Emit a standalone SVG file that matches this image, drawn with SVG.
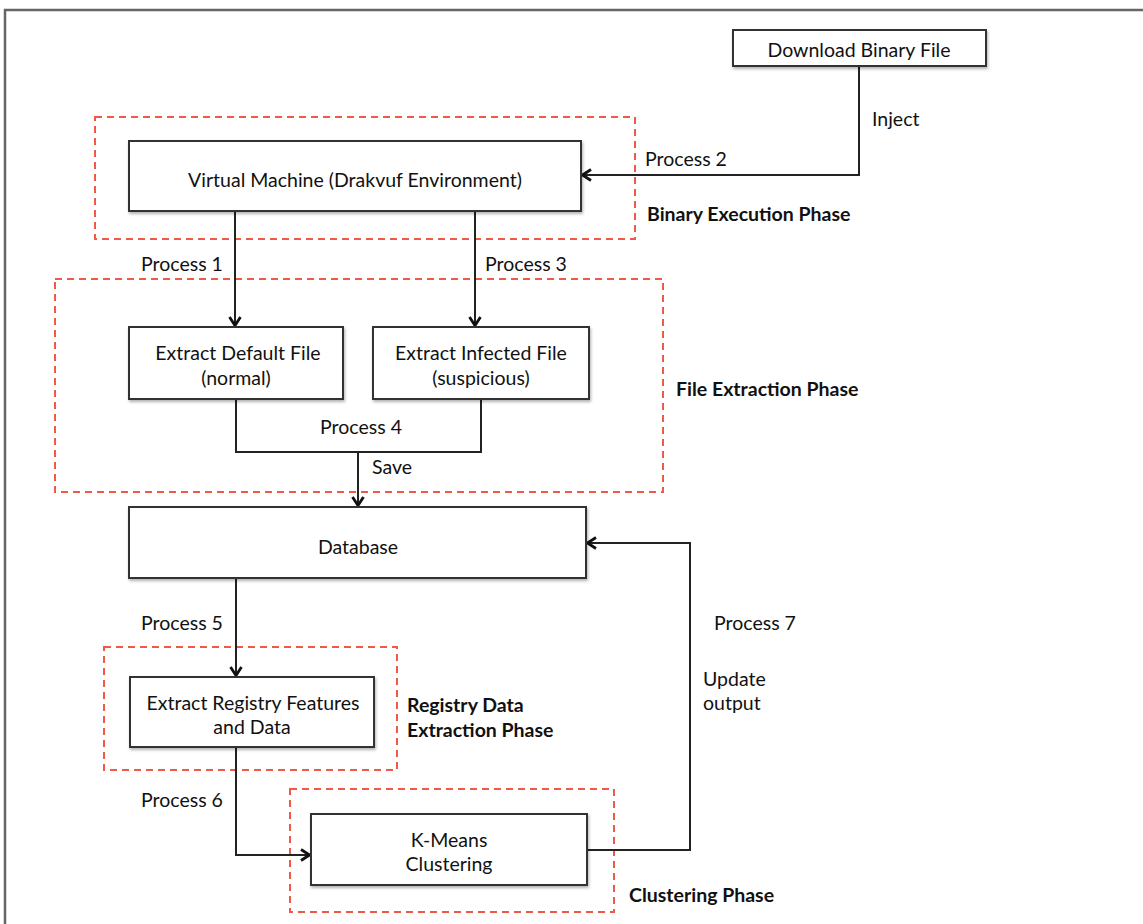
<svg xmlns="http://www.w3.org/2000/svg" width="1143" height="924" viewBox="0 0 1143 924">
<defs>
<marker id="arr" viewBox="0 0 14 14" refX="13" refY="7" markerWidth="14" markerHeight="14" markerUnits="userSpaceOnUse" orient="auto">
<path d="M4,1.5 L12.5,7 L4,12.5" fill="none" stroke="#111" stroke-width="2.8"/>
</marker>
<filter id="sh" x="-5%" y="-10%" width="112%" height="130%">
<feDropShadow dx="1" dy="2" stdDeviation="1.5" flood-color="#000" flood-opacity="0.3"/>
</filter>
</defs>
<style>
text{font-family:"Lato","Liberation Sans",sans-serif;font-size:19.5px;fill:#111;}
.c{text-anchor:middle;}
.b{font-weight:bold;}
.box{fill:#fff;stroke:#333;stroke-width:2;filter:url(#sh);}
.ph{fill:none;stroke:#ee5a45;stroke-width:2;stroke-dasharray:7 5;}
.ln{fill:none;stroke:#222;stroke-width:2;}
</style>
<rect width="1143" height="924" fill="#fff"/>
<path d="M5,924 L5,10 L1143,10" fill="none" stroke="#666" stroke-width="2.5"/>

<g id="phases">
<rect class="ph" x="95" y="117" width="540" height="122"/>
<rect class="ph" x="55" y="279" width="608" height="213"/>
<rect class="ph" x="104" y="647" width="293" height="123"/>
<rect class="ph" x="290" y="789" width="324" height="123"/>
<text class="b" x="647" y="221">Binary Execution Phase</text>
<text class="b" x="676" y="396">File Extraction Phase</text>
<text class="b" x="407" y="712">Registry Data</text>
<text class="b" x="407" y="737">Extraction Phase</text>
<text class="b" x="629" y="902">Clustering Phase</text>
</g>

<g id="connectors">
<path class="ln" d="M859,66 L859,175 L582,175" marker-end="url(#arr)"/>
<path class="ln" d="M235,211 L235,326" marker-end="url(#arr)"/>
<path class="ln" d="M475,211 L475,326" marker-end="url(#arr)"/>
<path class="ln" d="M236,399 L236,452 L481,452 L481,399"/>
<path class="ln" d="M358,452 L358,506" marker-end="url(#arr)"/>
<path class="ln" d="M236,578 L236,676" marker-end="url(#arr)"/>
<path class="ln" d="M236,747 L236,855 L310,855" marker-end="url(#arr)"/>
<path class="ln" d="M587,850 L690,850 L690,543 L587,543" marker-end="url(#arr)"/>
<text x="872" y="126">Inject</text>
<text x="645" y="166">Process 2</text>
<text x="141" y="271">Process 1</text>
<text x="485" y="271">Process 3</text>
<text class="c" x="361" y="434">Process 4</text>
<text x="372" y="474">Save</text>
<text x="141" y="630">Process 5</text>
<text x="141" y="807">Process 6</text>
<text x="714" y="630">Process 7</text>
<text x="703" y="686">Update</text>
<text x="703" y="710">output</text>
</g>

<g id="download">
<rect class="box" x="733" y="30" width="253" height="36"/>
<text class="c" x="859" y="57">Download Binary File</text>
</g>
<g id="vm">
<rect class="box" x="129" y="141" width="452" height="70"/>
<text class="c" x="355" y="187">Virtual Machine (Drakvuf Environment)</text>
</g>
<g id="default">
<rect class="box" x="129" y="327" width="214" height="72"/>
<text class="c" x="238" y="360">Extract Default File</text>
<text class="c" x="236" y="385">(normal)</text>
</g>
<g id="infected">
<rect class="box" x="373" y="327" width="216" height="72"/>
<text class="c" x="481" y="360">Extract Infected File</text>
<text class="c" x="481" y="385">(suspicious)</text>
</g>
<g id="database">
<rect class="box" x="129" y="507" width="457" height="71"/>
<text class="c" x="358" y="554">Database</text>
</g>
<g id="registry">
<rect class="box" x="130" y="677" width="244" height="70"/>
<text class="c" x="253" y="710">Extract Registry Features</text>
<text class="c" x="252" y="734">and Data</text>
</g>
<g id="kmeans">
<rect class="box" x="311" y="814" width="276" height="71"/>
<text class="c" x="449" y="847">K-Means</text>
<text class="c" x="449" y="871">Clustering</text>
</g>
</svg>
